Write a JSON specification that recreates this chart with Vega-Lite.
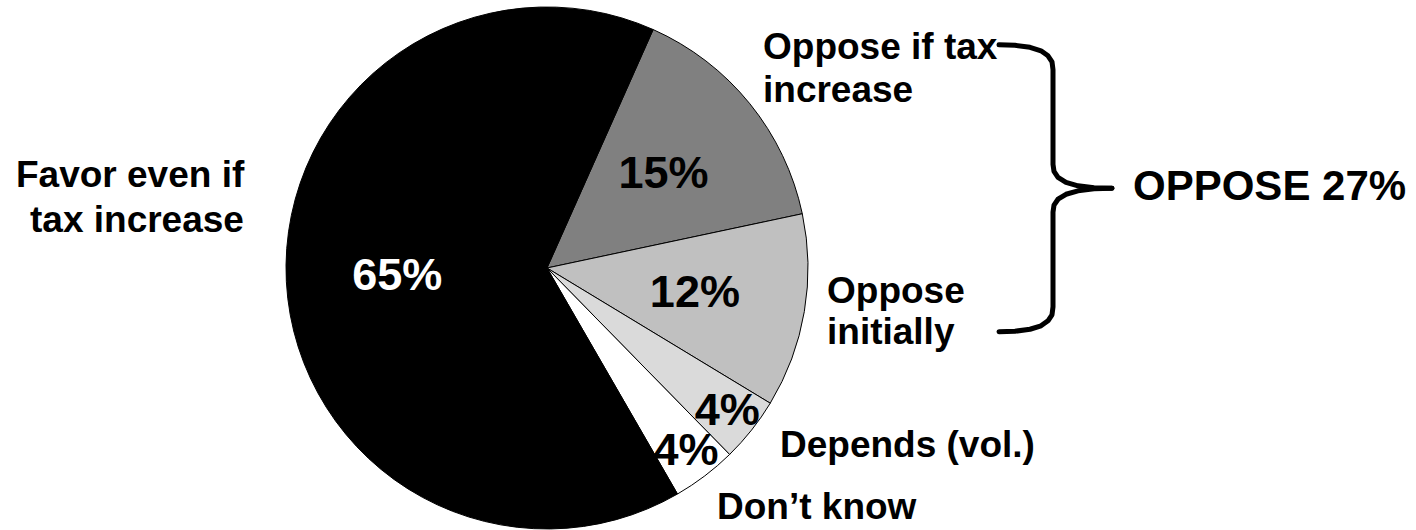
{
  "$schema": "https://vega.github.io/schema/vega-lite/v6.json",
  "width": 1416,
  "height": 530,
  "autosize": {"type": "fit", "contains": "padding"},
  "padding": 0,
  "background": "white",
  "config": {"view": {"stroke": null}},
  "datasets": {
    "slices": [
      {"cat": "Oppose if tax increase", "v": 15, "lab": "15%", "k": 1},
      {"cat": "Oppose initially", "v": 12, "lab": "12%", "k": 2},
      {"cat": "Depends (vol.)", "v": 4, "lab": "4%", "k": 3},
      {"cat": "Don’t know", "v": 4, "lab": "4%", "k": 4},
      {"cat": "Favor even if tax increase", "v": 65, "lab": "65%", "k": 5}
    ],
    "labels": [
      {"t": "Favor even if", "x": 16, "y": 188, "g": "cat"},
      {"t": "tax increase", "x": 30, "y": 233, "g": "cat"},
      {"t": "Oppose if tax", "x": 763, "y": 59, "g": "cat"},
      {"t": "increase", "x": 763, "y": 102, "g": "cat"},
      {"t": "Oppose", "x": 827, "y": 304, "g": "cat"},
      {"t": "initially", "x": 827, "y": 345, "g": "cat"},
      {"t": "Depends (vol.)", "x": 780, "y": 459, "g": "cat"},
      {"t": "Don’t know", "x": 717, "y": 521, "g": "cat"},
      {"t": "OPPOSE 27%", "x": 1133, "y": 201, "g": "big"}
    ],
    "brace": [
      {"s": 1, "i": 1, "x": 999, "y": 45},
      {"s": 1, "i": 2, "x": 1015, "y": 45.5},
      {"s": 1, "i": 3, "x": 1030, "y": 47.5},
      {"s": 1, "i": 4, "x": 1041, "y": 51},
      {"s": 1, "i": 5, "x": 1048, "y": 56},
      {"s": 1, "i": 6, "x": 1052, "y": 62},
      {"s": 1, "i": 7, "x": 1053, "y": 70},
      {"s": 1, "i": 8, "x": 1053, "y": 165},
      {"s": 1, "i": 9, "x": 1054, "y": 172},
      {"s": 1, "i": 10, "x": 1058, "y": 178},
      {"s": 1, "i": 11, "x": 1066, "y": 183},
      {"s": 1, "i": 12, "x": 1078, "y": 186.5},
      {"s": 1, "i": 13, "x": 1094, "y": 188.5},
      {"s": 1, "i": 14, "x": 1112, "y": 189},
      {"s": 2, "i": 1, "x": 1112, "y": 189},
      {"s": 2, "i": 2, "x": 1094, "y": 189.5},
      {"s": 2, "i": 3, "x": 1078, "y": 191.5},
      {"s": 2, "i": 4, "x": 1066, "y": 195},
      {"s": 2, "i": 5, "x": 1058, "y": 200},
      {"s": 2, "i": 6, "x": 1054, "y": 206},
      {"s": 2, "i": 7, "x": 1053, "y": 213},
      {"s": 2, "i": 8, "x": 1053, "y": 308},
      {"s": 2, "i": 9, "x": 1052, "y": 316},
      {"s": 2, "i": 10, "x": 1048, "y": 322},
      {"s": 2, "i": 11, "x": 1041, "y": 327},
      {"s": 2, "i": 12, "x": 1030, "y": 330.5},
      {"s": 2, "i": 13, "x": 1015, "y": 332.5},
      {"s": 2, "i": 14, "x": 999, "y": 333}
    ]
  },
  "layer": [
    {
      "data": {"name": "slices"},
      "mark": {"type": "arc", "outerRadius": 261, "stroke": "black", "strokeWidth": 1},
      "encoding": {
        "theta": {"field": "v", "type": "quantitative", "stack": true, "scale": {"range": [0.419, 6.702]}},
        "order": {"field": "k", "type": "quantitative"},
        "color": {
          "field": "cat", "type": "nominal", "legend": null,
          "scale": {
            "domain": ["Oppose if tax increase", "Oppose initially", "Depends (vol.)", "Don’t know", "Favor even if tax increase"],
            "range": ["#808080", "#c0c0c0", "#dadada", "#ffffff", "#000000"]
          }
        },
        "x": {"datum": 547, "type": "quantitative", "scale": {"domain": [0, 1416], "nice": false, "zero": false}, "axis": null},
        "y": {"datum": 269, "type": "quantitative", "scale": {"domain": [0, 530], "nice": false, "zero": false, "reverse": true}, "axis": null}
      }
    },
    {
      "data": {"name": "slices"},
      "mark": {"type": "text", "radius": 150, "font": "Liberation Sans", "fontWeight": "bold", "fontSize": 45, "baseline": "middle", "align": "center"},
      "encoding": {
        "theta": {"field": "v", "type": "quantitative", "stack": true},
        "order": {"field": "k", "type": "quantitative"},
        "text": {"condition": {"test": "datum.v >= 10", "field": "lab"}, "value": ""},
        "color": {"condition": {"test": "datum.v > 50", "value": "white"}, "value": "black"},
        "x": {"datum": 547, "type": "quantitative"},
        "y": {"datum": 269, "type": "quantitative"}
      }
    },
    {
      "data": {"name": "slices"},
      "mark": {"type": "text", "radius": 230, "font": "Liberation Sans", "fontWeight": "bold", "fontSize": 45, "baseline": "middle", "align": "center", "color": "black"},
      "encoding": {
        "theta": {"field": "v", "type": "quantitative", "stack": true},
        "order": {"field": "k", "type": "quantitative"},
        "text": {"condition": {"test": "datum.v < 10", "field": "lab"}, "value": ""},
        "x": {"datum": 547, "type": "quantitative"},
        "y": {"datum": 269, "type": "quantitative"}
      }
    },
    {
      "data": {"name": "labels"},
      "transform": [{"filter": "datum.g == 'cat'"}],
      "mark": {"type": "text", "font": "Liberation Sans", "fontWeight": "bold", "fontSize": 37, "baseline": "alphabetic", "align": "left", "color": "black"},
      "encoding": {
        "x": {"field": "x", "type": "quantitative"},
        "y": {"field": "y", "type": "quantitative"},
        "text": {"field": "t"}
      }
    },
    {
      "data": {"name": "labels"},
      "transform": [{"filter": "datum.g == 'big'"}],
      "mark": {"type": "text", "font": "Liberation Sans", "fontWeight": "bold", "fontSize": 42, "baseline": "alphabetic", "align": "left", "color": "black"},
      "encoding": {
        "x": {"field": "x", "type": "quantitative"},
        "y": {"field": "y", "type": "quantitative"},
        "text": {"field": "t"}
      }
    },
    {
      "data": {"name": "brace"},
      "mark": {"type": "line", "strokeWidth": 5, "strokeCap": "round", "strokeJoin": "round", "color": "black"},
      "encoding": {
        "x": {"field": "x", "type": "quantitative"},
        "y": {"field": "y", "type": "quantitative"},
        "order": {"field": "i", "type": "quantitative"},
        "detail": {"field": "s", "type": "nominal"}
      }
    }
  ]
}
